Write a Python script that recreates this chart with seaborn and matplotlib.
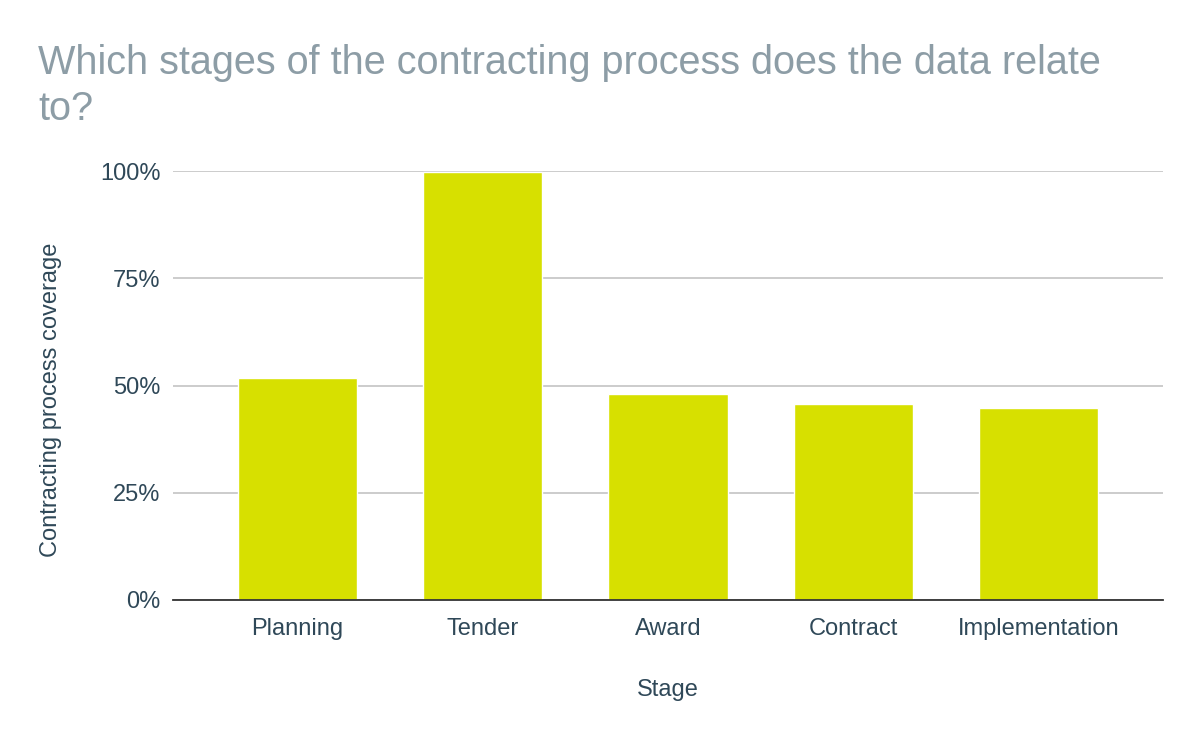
import matplotlib
matplotlib.use("Agg")
import matplotlib.pyplot as plt
import seaborn as sns
import pandas as pd
from matplotlib.ticker import FuncFormatter

stages = ["Planning", "Tender", "Award", "Contract", "Implementation"]
coverage = [51.7, 99.8, 48.0, 45.7, 44.8]

df = pd.DataFrame({"Stage": stages, "Coverage": coverage})

sns.set_theme(style="whitegrid")
plt.rcParams["font.family"] = ["Liberation Sans", "DejaVu Sans"]

text_col = "#2f4858"
title_col = "#8d9da6"
bar_col = "#d7e000"

fig = plt.figure(figsize=(12, 7.42), dpi=100)
ax = fig.add_axes([173 / 1200, 1 - 600 / 742, 990 / 1200, 429 / 742])

sns.barplot(data=df, x="Stage", y="Coverage", color=bar_col, width=0.645,
            saturation=1, ax=ax)

ax.set_ylim(0, 100)
ax.set_xlim(-0.672, 4.672)
ax.set_yticks([0, 25, 50, 75, 100])
ax.yaxis.set_major_formatter(FuncFormatter(lambda v, p: f"{v:.0f}%"))
ax.grid(axis="y", color="#c8c8c8", linewidth=1.3)
ax.grid(axis="x", visible=False)
ax.set_axisbelow(True)
for s in ["top", "right", "left"]:
    ax.spines[s].set_visible(False)
ax.spines["bottom"].set_color("#333333")
ax.spines["bottom"].set_linewidth(1.3)
ax.tick_params(axis="both", length=0, labelsize=17, labelcolor=text_col)
ax.tick_params(axis="x", pad=13)
ax.tick_params(axis="y", pad=9)

ax.set_xlabel("Stage", fontsize=17, color=text_col)
ax.xaxis.set_label_coords(0.5, (600 - 690) / 429, transform=ax.transAxes)
ax.xaxis.label.set_va("center")
ax.set_ylabel("Contracting process coverage", fontsize=17, color=text_col)
ax.yaxis.set_label_coords((51 - 173) / 990, (600 - 400) / 429, transform=ax.transAxes)
ax.yaxis.label.set_va("center")

fig.text(38 / 1200, 1 - 86 / 742, "Which stages of the contracting process does the data relate\nto?",
         fontsize=28.5, color=title_col, va="center", ha="left", linespacing=1.27)

fig.savefig("out.png", dpi=100, facecolor="white")
